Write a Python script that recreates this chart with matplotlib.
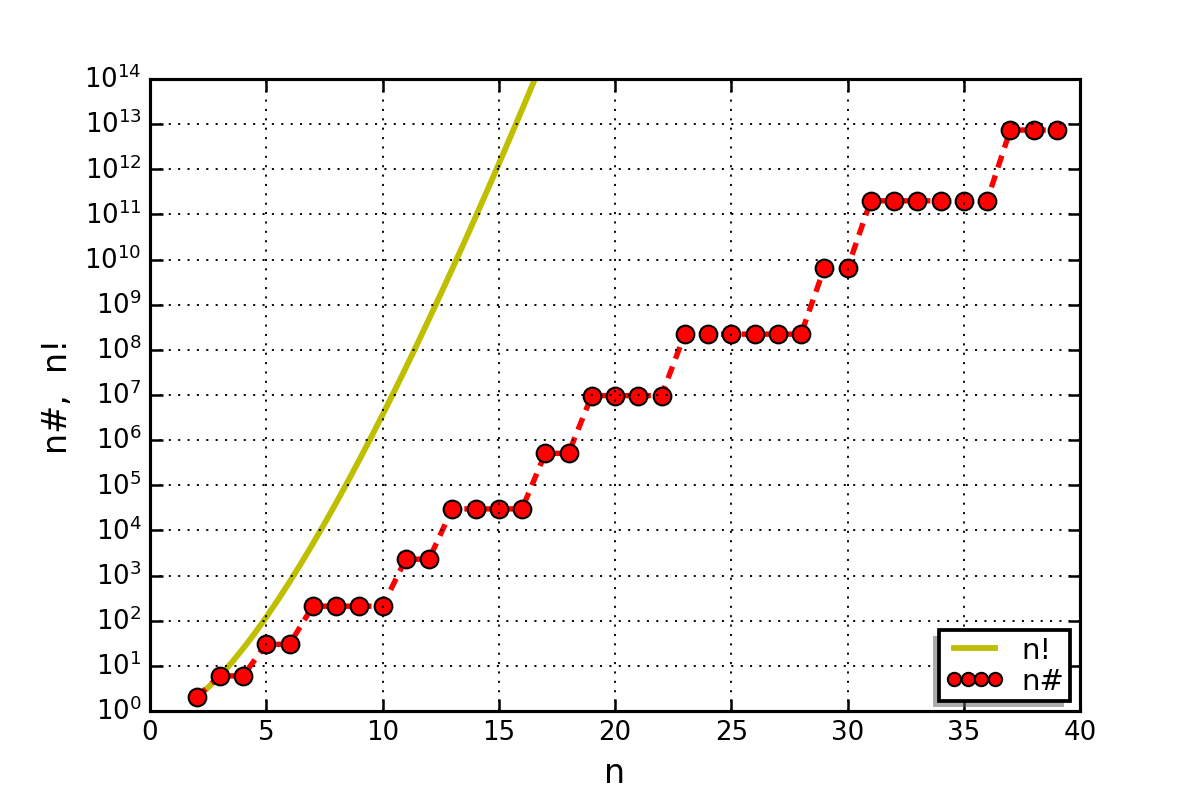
import numpy as np, matplotlib; matplotlib.use('Agg'); import matplotlib.pyplot as plt
from matplotlib.ticker import LogLocator, NullLocator

# primorial n# for n = 2..39
n_prim = list(range(2, 40))
prim = [2, 6, 6, 30, 30, 210, 210, 210, 210, 2310, 2310, 30030, 30030, 30030, 30030,
        510510, 510510, 9699690, 9699690, 9699690, 9699690,
        223092870, 223092870, 223092870, 223092870, 223092870, 223092870,
        6469693230, 6469693230,
        200560490130, 200560490130, 200560490130, 200560490130, 200560490130, 200560490130,
        7420738134810, 7420738134810, 7420738134810]
# factorial curve n! (read at integer and half-integer n)
n_fact = [2, 2.5, 3, 3.5, 4, 4.5, 5, 5.5, 6, 6.5, 7, 7.5, 8, 8.5, 9, 9.5, 10, 10.5,
          11, 11.5, 12, 12.5, 13, 13.5, 14, 14.5, 15, 15.5, 16, 16.5, 17]
fact = [2, 3.32, 6, 11.6, 24, 52.3, 120, 288, 720, 1871, 5040, 14034, 40320, 119292,
        362880, 1.133e6, 3628800, 1.19e7, 39916800, 1.369e8, 479001600, 1.711e9,
        6227020800, 2.31e10, 87178291200, 3.35e11, 1307674368000, 5.19e12,
        20922789888000, 8.57e13, 355687428096000]

plt.style.use('classic')
fig = plt.figure(figsize=(8, 5.333), dpi=150, facecolor='white')
fig.subplots_adjust(left=0.125, right=0.9, bottom=0.11, top=0.9)
ax = fig.add_subplot(111)
ax.semilogy(n_fact, fact, color='y', lw=2.8, label='n!')
ax.semilogy(n_prim, prim, 'r--o', lw=2.6, ms=8.5, mec='k', mew=1.0, dashes=(6, 4), label='n#')
ax.set_xlim(0, 40); ax.set_ylim(1, 1e14)
ax.yaxis.set_major_locator(LogLocator(base=10, numticks=20))
ax.yaxis.set_minor_locator(NullLocator())
ax.grid(True, lw=0.9, ls=(0, (1, 3.5)))
for s in ax.spines.values(): s.set_linewidth(1.5)
ax.tick_params(which='major', length=6, width=1.2, labelsize=12.5)
ax.set_xlabel('n', fontsize=16); ax.set_ylabel('n#,  n!', fontsize=16)
leg = ax.legend(loc='lower right', numpoints=4, fontsize=14, markerscale=0.75,
                shadow={'ox': -3, 'oy': -3, 'facecolor': '0.35', 'edgecolor': 'none'},
                borderaxespad=0.35, handlelength=2.0, handletextpad=0.6,
                borderpad=0.2, labelspacing=0.1)
leg.get_frame().set_linewidth(1.8)
fig.savefig('out.png', dpi=150, facecolor='white')
